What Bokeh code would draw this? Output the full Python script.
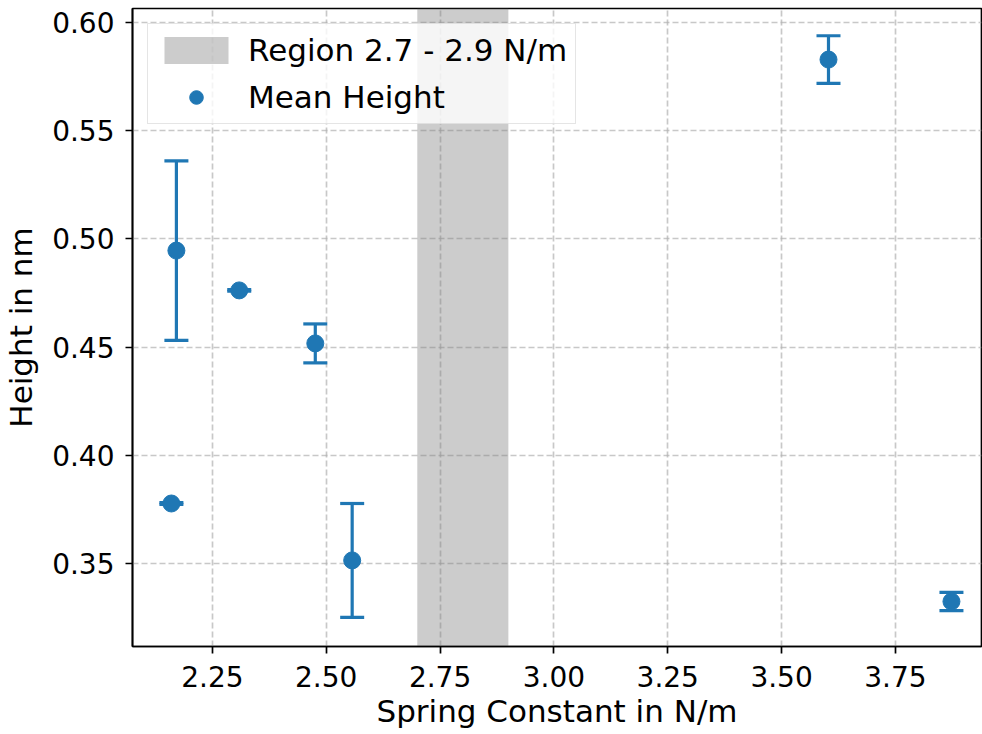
import numpy as np
from bokeh.plotting import figure
from bokeh.models import FixedTicker, Legend, LegendItem, Range1d
from bokeh.embed import file_html
from bokeh.resources import INLINE

# ---- data ----
spring_constant = [2.171, 2.309, 2.476, 2.160, 2.557, 3.603, 3.873]
mean_height = [0.4946, 0.4762, 0.4517, 0.3777, 0.3514, 0.5829, 0.3324]
height_err = [0.0415, 0.0004, 0.0090, 0.0004, 0.0263, 0.0110, 0.0042]
region = [2.7, 2.9]
region_label = "Region 2.7 - 2.9 N/m"
series_label = "Mean Height"
x_ticks = [2.25, 2.50, 2.75, 3.00, 3.25, 3.50, 3.75]
y_ticks = [0.35, 0.40, 0.45, 0.50, 0.55, 0.60]
x_limits = [2.0746, 3.939]
y_limits = [0.3116, 0.6065]

BLUE = "#1f77b4"
FONT = "DejaVu Sans"

x = np.array(spring_constant)
y = np.array(mean_height)
e = np.array(height_err)

p = figure(width=982, height=734, output_backend="svg", toolbar_location=None,
           x_range=Range1d(*x_limits), y_range=Range1d(*y_limits),
           min_border_left=131, min_border_right=1, min_border_top=8, min_border_bottom=88)

# shaded region
span = p.quad(left=[region[0]], right=[region[1]], bottom=[y_limits[0]], top=[y_limits[1]],
              fill_color="gray", fill_alpha=0.4, line_color=None)

# error bars
p.segment(x0=x, y0=y - e, x1=x, y1=y + e, line_color=BLUE, line_width=3.2)
p.scatter(x=x, y=y + e, marker="dash", size=24, line_color=BLUE, line_width=3.2)
p.scatter(x=x, y=y - e, marker="dash", size=24, line_color=BLUE, line_width=3.2)
pts = p.scatter(x=x, y=y, marker="circle", size=17, fill_color=BLUE, line_color=BLUE)

# axes
p.xaxis.ticker = FixedTicker(ticks=x_ticks)
p.yaxis.ticker = FixedTicker(ticks=y_ticks)
p.xaxis.major_label_overrides = {t: f"{t:.2f}" for t in x_ticks}
p.yaxis.major_label_overrides = {t: f"{t:.2f}" for t in y_ticks}
p.xaxis.axis_label = "Spring Constant in N/m"
p.yaxis.axis_label = "Height in nm"
for ax in (p.xaxis[0], p.yaxis[0]):
    ax.axis_label_text_font = FONT
    ax.axis_label_text_font_style = "normal"
    ax.axis_label_text_font_size = "31px"
    ax.axis_label_text_color = "black"
    ax.major_label_text_font = FONT
    ax.major_label_text_font_size = "28px"
    ax.major_label_text_color = "black"
    ax.major_tick_out = 7
    ax.major_tick_in = 0
    ax.minor_tick_out = 0
    ax.minor_tick_in = 0
    ax.major_tick_line_width = 1.7
    ax.major_tick_line_color = "black"
    ax.axis_line_width = 1.7
    ax.axis_line_color = "black"
p.xaxis.major_label_standoff = 12
p.xaxis.axis_label_standoff = 3
p.yaxis.major_label_standoff = 11
p.yaxis.axis_label_standoff = 10

p.outline_line_color = "black"
p.outline_line_width = 1.7

p.grid.grid_line_color = "#b0b0b0"
p.grid.grid_line_alpha = 0.7
p.grid.grid_line_dash = "6 3"
p.grid.grid_line_width = 1.7

legend = Legend(items=[LegendItem(label=region_label, renderers=[span]),
                       LegendItem(label=series_label, renderers=[pts])],
                location="top_left")
legend.label_text_font = FONT
legend.label_text_font_size = "31px"
legend.label_text_color = "black"
legend.glyph_height = 34
legend.glyph_width = 80
legend.label_height = 34
legend.spacing = 11
legend.padding = 8
legend.margin = 15
legend.label_standoff = 12
legend.border_line_color = "#cccccc"
legend.border_line_width = 1.7
legend.background_fill_alpha = 0.8
p.add_layout(legend)

open("out.html", "w").write(file_html(p, INLINE))
